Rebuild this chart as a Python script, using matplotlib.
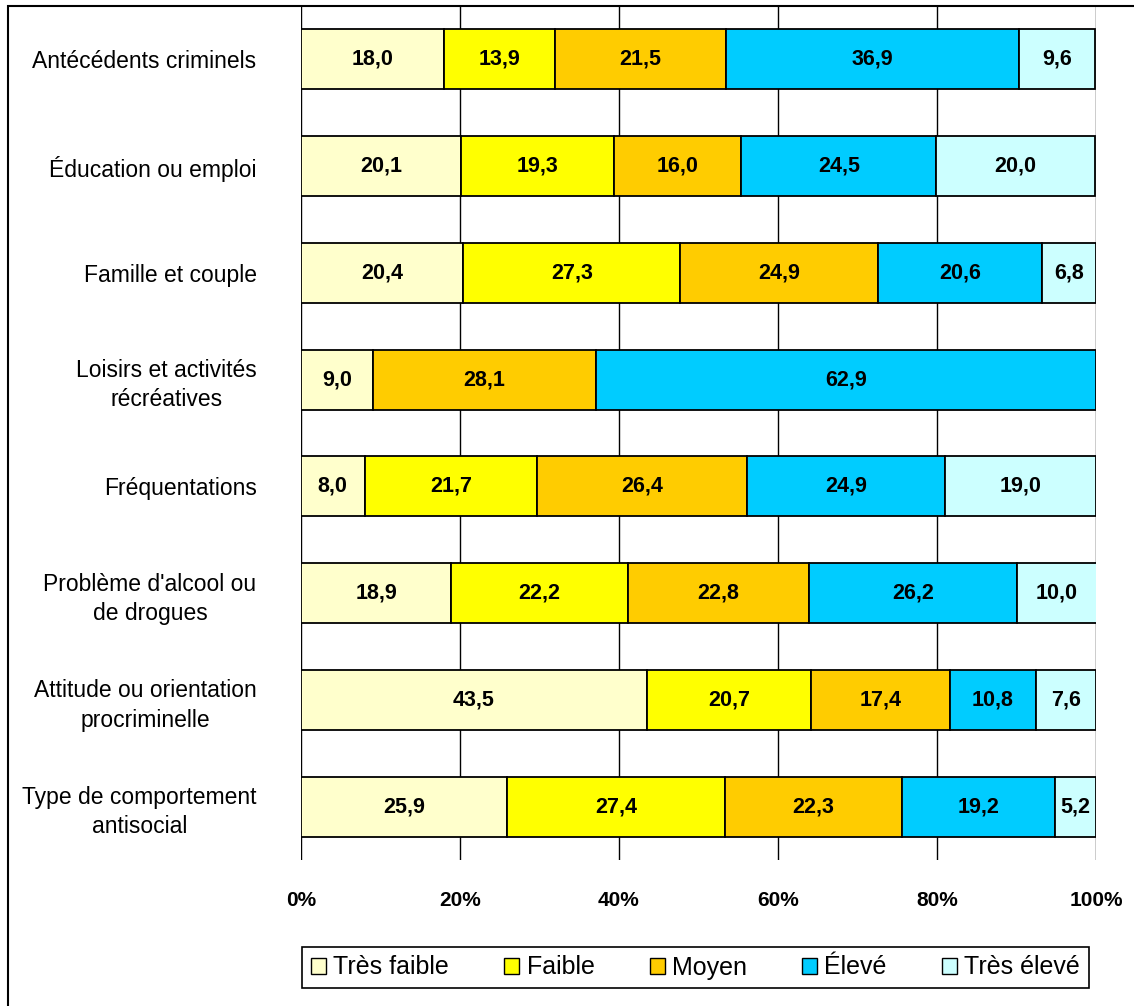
import matplotlib.pyplot as plt
from matplotlib.patches import Rectangle, Patch
import numpy as np

plt.rcParams['font.family'] = ['Liberation Sans', 'DejaVu Sans']

categories = ['Antécédents criminels', 'Éducation ou emploi', 'Famille et couple',
              'Loisirs et activités\nrécréatives', 'Fréquentations',
              "Problème d'alcool ou\nde drogues", 'Attitude ou orientation\nprocriminelle',
              'Type de comportement\nantisocial']
levels = ['Très faible', 'Faible', 'Moyen', 'Élevé', 'Très élevé']
colors = ['#FFFFCC', '#FFFF00', '#FFCC00', '#00CCFF', '#CCFFFF']

tres_faible = [18.0, 20.1, 20.4, 9.0, 8.0, 18.9, 43.5, 25.9]
faible = [13.9, 19.3, 27.3, 0.0, 21.7, 22.2, 20.7, 27.4]
moyen = [21.5, 16.0, 24.9, 28.1, 26.4, 22.8, 17.4, 22.3]
eleve = [36.9, 24.5, 20.6, 62.9, 24.9, 26.2, 10.8, 19.2]
tres_eleve = [9.6, 20.0, 6.8, 0.0, 19.0, 10.0, 7.6, 5.2]
series = [tres_faible, faible, moyen, eleve, tres_eleve]

xticks = [0, 20, 40, 60, 80, 100]
xticklabels = ['0%', '20%', '40%', '60%', '80%', '100%']

fig = plt.figure(figsize=(11.34, 10.06), dpi=100)
ax = fig.add_axes([301 / 1134, 1 - 860 / 1006, 795 / 1134, 854 / 1006])

y = np.arange(len(categories))
left = np.zeros(len(categories))
for vals, col in zip(series, colors):
    vals = np.array(vals)
    mask = vals > 0
    ax.barh(y[mask], vals[mask], left=left[mask], height=0.56, color=col,
            edgecolor='black', linewidth=1.3, zorder=3)
    for yi, v, l in zip(y[mask], vals[mask], left[mask]):
        ax.text(l + v / 2, yi, f'{v:.1f}'.replace('.', ','), ha='center', va='center',
                fontsize=15.5, fontweight='bold', zorder=4)
    left += vals

ax.set_xlim(0, 100)
ax.set_ylim(len(categories) - 0.5, -0.5)
ax.set_xticks(xticks)
ax.set_xticklabels(xticklabels, fontweight='bold', fontsize=15)
ax.set_yticks(y)
ax.set_yticklabels(categories, fontsize=16.5, multialignment='center', linespacing=1.35)
ax.tick_params(axis='y', length=0, pad=32)
ax.tick_params(axis='x', length=0, pad=22)
ax.xaxis.grid(True, color='black', linewidth=1, zorder=0)
ax.set_axisbelow(True)
for s in ax.spines.values():
    s.set_visible(False)

# outer frame, cut by the image edges on the right and bottom
fig.patches.append(Rectangle((8 / 1134, -0.1), 1.2, 1.1 - 6 / 1006, transform=fig.transFigure,
                             fill=False, edgecolor='black', linewidth=1.5))

handles = [Patch(facecolor=c, edgecolor='black', linewidth=1) for c in colors]
leg = fig.legend(handles, levels, loc='center', bbox_to_anchor=(695.5 / 1134, 1 - 967.5 / 1006),
                 ncol=5, fontsize=18, frameon=True, fancybox=False, edgecolor='black',
                 framealpha=1, handlelength=0.6, handleheight=0.6, handletextpad=0.3,
                 columnspacing=2.2, borderpad=0.35)
leg.get_frame().set_linewidth(1.2)

fig.savefig('out.png', dpi=100)
